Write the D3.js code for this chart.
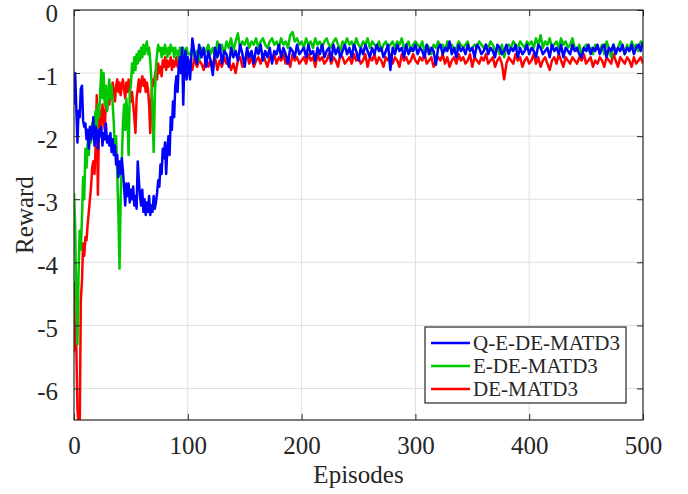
<!DOCTYPE html>
<html lang="en">
<head>
    <meta charset="utf-8">
    <title>Reward</title>
    <script src="https://cdn.jsdelivr.net/npm/d3@7/dist/d3.min.js"></script>
    <style type="text/css">
        body { margin: 0; background: #fff; }
        svg { display: block; }
        text { font-family: "Liberation Serif", "Times New Roman", serif; fill: #262626; }
    </style>
</head>
<body>
<script>
// episodes: one per step up to 100, every second one afterwards
const episodesEarly = d3.range(0, 101);
const episodesLate = d3.range(102, 501, 2);

const seriesNames = ["Q-E-DE-MATD3", "E-DE-MATD3", "DE-MATD3"];
const seriesColors = ["#0000ff", "#00c800", "#ff0000"];

const xTicks = [0, 100, 200, 300, 400, 500];
const yTicks = [0, -1, -2, -3, -4, -5, -6];

// Q-E-DE-MATD3
const blueEarly = [
    -1.5, -1.0, -1.55, -2.1, -1.6, -1.7, -1.25, -1.2, -1.75, -1.85,
    -1.8, -2.05, -1.9, -2.2, -1.85, -2.05, -1.95, -1.7, -2.15, -1.85,
    -1.95, -2.2, -1.9, -2.0, -1.85, -2.15, -1.95, -2.05, -1.8, -2.1,
    -2.0, -2.15, -1.95, -2.25, -2.05, -2.3, -2.15, -2.45, -2.3, -2.65,
    -2.4, -2.6, -2.35, -2.55, -2.8, -3.1, -2.75, -2.95, -2.75, -3.05,
    -2.85, -3.0, -2.8, -3.1, -2.95, -3.15, -2.4, -2.7, -2.95, -3.1,
    -2.85, -3.2, -3.0, -3.25, -3.05, -3.2, -2.95, -3.25, -3.1, -3.2,
    -2.95, -3.15, -3.05, -2.9, -2.7, -2.8, -2.45, -2.6, -2.2, -2.35,
    -2.1, -2.6, -2.2, -2.0, -2.3, -1.7, -1.9, -1.45, -1.7, -1.2,
    -1.05, -1.3, -0.9, -0.75, -1.0, -0.6, -1.5, -0.8, -0.65, -1.1,
    -0.75
];
const blueLate = [
    -1.1, -0.45, -0.7, -0.85, -0.55, -0.75, -0.6, -0.9, -0.65, -0.8,
    -1.03, -0.6, -0.75, -0.55, -0.85, -0.65, -0.7, -0.9, -0.6, -0.75,
    -0.65, -0.8, -0.55, -0.7, -0.9, -0.6, -0.75, -0.65, -0.85, -0.6,
    -0.7, -0.55, -0.8, -0.65, -0.75, -0.6, -0.85, -0.65, -0.7, -0.55,
    -0.75, -0.6, -0.7, -0.85, -0.6, -0.65, -0.75, -0.55, -0.7, -0.65,
    -0.6, -0.75, -0.55, -0.7, -0.65, -0.8, -0.6, -0.7, -0.55, -0.75,
    -0.65, -0.6, -0.8, -0.55, -0.7, -0.6, -0.75, -0.65, -0.55, -0.7,
    -0.6, -0.75, -0.55, -0.65, -0.8, -0.6, -0.7, -0.55, -0.65, -0.75,
    -0.6, -0.7, -0.55, -0.65, -0.6, -0.75, -0.65, -0.55, -0.95, -0.6,
    -0.7, -0.55, -0.65, -0.6, -0.75, -0.55, -0.7, -0.6, -0.65, -0.55,
    -0.7, -0.6, -0.65, -0.75, -0.55, -0.7, -0.6, -0.65, -0.87, -0.6,
    -0.55, -0.7, -0.6, -0.65, -0.5, -0.7, -0.6, -0.75, -0.55, -0.65,
    -0.6, -0.7, -0.55, -0.65, -0.6, -0.75, -0.55, -0.6, -0.7, -0.65,
    -0.55, -0.7, -0.6, -0.65, -0.75, -0.55, -0.6, -0.7, -0.65, -0.55,
    -0.7, -0.6, -0.65, -0.55, -0.75, -0.6, -0.7, -0.65, -0.55, -0.7,
    -0.6, -0.65, -0.75, -0.55, -0.6, -0.7, -0.65, -0.6, -0.75, -0.55,
    -0.65, -0.6, -0.7, -0.55, -0.75, -0.6, -0.65, -0.7, -0.55, -0.65,
    -0.6, -0.7, -0.75, -0.6, -0.65, -0.55, -0.7, -0.6, -0.65, -0.55,
    -0.7, -0.6, -0.55, -0.75, -0.6, -0.65, -0.55, -0.7, -0.6, -0.65,
    -0.55, -0.7, -0.6, -0.65, -0.55, -0.7, -0.6, -0.55, -0.65, -0.5
];

// E-DE-MATD3
const greenEarly = [
    -2.9, -3.4, -4.6, -5.3, -4.2, -3.5, -3.8, -3.3, -2.65, -3.0,
    -2.2, -2.5, -2.1, -2.3, -1.9, -2.1, -1.8, -2.0, -1.75, -1.6,
    -1.9, -1.5, -1.7, -1.3, -0.95, -1.4, -1.0, -1.5, -1.2, -1.6,
    -1.3, -1.1, -1.4, -1.2, -1.5, -1.8, -2.3, -2.0, -2.6, -3.2,
    -4.1, -3.0, -2.4, -1.8, -1.5, -1.9, -1.4, -1.7, -2.3, -1.3,
    -1.2, -0.85, -1.0, -0.75, -0.95, -0.7, -0.85, -0.65, -0.8, -0.6,
    -0.75, -0.55, -0.7, -0.6, -0.5, -0.7, -0.6, -0.8, -1.1, -1.6,
    -2.25, -1.4, -0.9, -0.7, -0.55, -0.65, -0.6, -0.75, -0.6, -0.7,
    -0.55, -0.65, -0.75, -0.6, -0.7, -0.55, -0.65, -0.6, -0.75, -0.6,
    -0.7, -0.65, -0.8, -0.6, -0.7, -0.65, -0.6, -0.75, -0.65, -0.6,
    -0.7
];
const greenLate = [
    -0.7, -0.6, -0.75, -0.65, -0.8, -0.6, -0.7, -0.65, -0.55, -0.7,
    -0.6, -0.75, -0.5, -0.65, -0.55, -0.7, -0.5, -0.6, -0.45, -0.65,
    -0.5, -0.37, -0.6, -0.5, -0.55, -0.45, -0.6, -0.5, -0.55, -0.45,
    -0.6, -0.5, -0.45, -0.55, -0.6, -0.5, -0.45, -0.55, -0.5, -0.6,
    -0.45, -0.55, -0.5, -0.6, -0.4, -0.35, -0.5, -0.45, -0.55, -0.5,
    -0.6, -0.45, -0.55, -0.5, -0.6, -0.45, -0.55, -0.5, -0.6, -0.5,
    -0.45, -0.55, -0.6, -0.5, -0.45, -0.55, -0.65, -0.5, -0.55, -0.45,
    -0.55, -0.5, -0.6, -0.45, -0.55, -0.6, -0.5, -0.55, -0.45, -0.6,
    -0.5, -0.55, -0.6, -0.5, -0.65, -0.55, -0.5, -0.6, -0.55, -0.5,
    -0.6, -0.5, -0.55, -0.45, -0.6, -0.55, -0.5, -0.65, -0.55, -0.5,
    -0.55, -0.6, -0.5, -0.65, -0.55, -0.6, -0.7, -0.55, -0.6, -0.5,
    -0.6, -0.55, -0.65, -0.5, -0.6, -0.55, -0.65, -0.6, -0.5, -0.55,
    -0.6, -0.55, -0.5, -0.65, -0.6, -0.55, -0.6, -0.5, -0.55, -0.6,
    -0.55, -0.6, -0.5, -0.55, -0.65, -0.6, -0.7, -0.55, -0.75, -0.6,
    -0.55, -0.6, -0.5, -0.55, -0.6, -0.5, -0.55, -0.6, -0.5, -0.55,
    -0.5, -0.6, -0.45, -0.55, -0.4, -0.6, -0.5, -0.55, -0.45, -0.6,
    -0.55, -0.5, -0.6, -0.45, -0.55, -0.5, -0.6, -0.55, -0.45, -0.6,
    -0.65, -0.55, -0.7, -0.6, -0.55, -0.65, -0.6, -0.7, -0.55, -0.6,
    -0.65, -0.55, -0.7, -0.5, -0.6, -0.75, -0.55, -0.65, -0.6, -0.5,
    -0.6, -0.7, -0.55, -0.65, -0.5, -0.6, -0.55, -0.65, -0.5, -0.55
];

// DE-MATD3
const redEarly = [
    -4.3, -5.4, -5.3, -6.3, -6.6, -6.7, -4.6, -4.3, -3.7, -3.9,
    -3.6, -3.65, -3.4, -3.2, -3.0, -2.8, -2.5, -2.4, -2.6, -2.2,
    -1.35, -2.93, -1.8, -1.6, -1.85, -1.5, -1.7, -1.9, -1.45, -1.6,
    -1.35, -1.5, -1.25, -1.4, -1.15, -1.3, -1.45, -1.2, -1.1, -1.3,
    -1.15, -1.35, -1.2, -1.1, -1.25, -1.4, -1.15, -1.3, -1.1, -1.25,
    -1.45, -1.3, -1.5, -1.7, -1.95, -1.4, -1.25, -1.1, -1.3, -1.15,
    -1.05, -1.2, -1.1, -1.3, -1.15, -1.25, -1.5, -1.95, -1.4, -1.1,
    -1.2, -1.05, -0.95, -1.1, -0.85, -1.0, -0.9, -1.05, -0.8, -0.9,
    -0.75, -0.95, -0.8, -0.9, -0.85, -0.75, -0.95, -0.8, -0.9, -0.85,
    -0.75, -0.9, -0.8, -0.95, -0.85, -0.7, -0.9, -0.8, -0.85, -0.75,
    -0.9
];
const redLate = [
    -0.8, -0.95, -0.75, -0.9, -0.8, -0.85, -0.95, -0.75, -0.9, -0.8,
    -0.85, -0.75, -0.95, -0.8, -0.9, -0.75, -0.85, -0.8, -0.95, -0.85,
    -1.0, -0.8, -0.75, -0.9, -0.8, -0.7, -0.85, -0.75, -0.9, -0.8,
    -0.75, -0.85, -0.7, -0.8, -0.9, -0.75, -0.8, -0.7, -0.85, -0.75,
    -0.8, -0.7, -0.85, -0.75, -0.9, -0.7, -0.8, -0.75, -0.85, -0.8,
    -0.75, -0.85, -0.7, -0.8, -0.75, -0.9, -0.7, -0.8, -0.75, -0.85,
    -0.8, -0.7, -0.85, -0.75, -0.8, -0.9, -0.7, -0.75, -0.85, -0.8,
    -0.75, -0.85, -0.7, -0.8, -0.75, -0.85, -0.8, -0.7, -0.9, -0.75,
    -0.8, -0.7, -0.85, -0.75, -0.8, -0.9, -0.75, -0.8, -0.7, -0.85,
    -0.75, -0.8, -0.9, -0.7, -0.8, -0.75, -0.85, -0.8, -0.7, -0.8,
    -0.85, -0.75, -0.8, -0.7, -0.85, -0.8, -0.75, -0.9, -0.8, -0.75,
    -0.8, -0.7, -0.85, -0.75, -0.9, -0.8, -0.75, -0.85, -0.7, -0.8,
    -0.75, -0.85, -0.8, -0.7, -0.9, -0.75, -0.8, -0.85, -0.75, -0.8,
    -0.7, -0.85, -0.8, -0.75, -0.9, -0.8, -0.75, -0.85, -1.1, -0.85,
    -0.75, -0.8, -0.85, -0.7, -0.8, -0.75, -0.9, -0.8, -0.75, -0.85,
    -0.8, -0.7, -0.85, -0.75, -0.9, -0.8, -0.75, -0.85, -0.95, -0.8,
    -0.75, -0.85, -0.7, -0.8, -0.9, -0.75, -0.8, -0.85, -0.75, -0.8,
    -0.85, -0.75, -0.8, -0.7, -0.85, -0.8, -0.75, -0.9, -0.8, -0.85,
    -0.75, -0.8, -0.9, -0.75, -0.8, -0.85, -0.7, -0.8, -0.9, -0.75,
    -0.8, -0.85, -0.75, -0.8, -0.9, -0.75, -0.85, -0.8, -0.75, -0.85
];

const episodes = episodesEarly.concat(episodesLate);
const seriesValues = [
    blueEarly.concat(blueLate),
    greenEarly.concat(greenLate),
    redEarly.concat(redLate)
];

const margin = {top: 10, right: 45, bottom: 74, left: 74},
    width = 688 - margin.left - margin.right,
    height = 494 - margin.top - margin.bottom;

const x = d3.scaleLinear().domain([0, 500]).range([0, width]);
const y = d3.scaleLinear().domain([-6.5, 0]).range([height, 0]);

const svg = d3.select("body").append("svg")
    .attr("width", 688)
    .attr("height", 494)
    .append("g")
    .attr("transform", "translate(" + margin.left + "," + margin.top + ")");

svg.append("defs").append("clipPath")
    .attr("id", "plot-clip")
    .append("rect")
    .attr("width", width)
    .attr("height", height);

// grid
svg.append("g")
    .selectAll("line")
    .data(xTicks.slice(1, -1))
    .enter().append("line")
    .attr("x1", d => x(d)).attr("x2", d => x(d))
    .attr("y1", 0).attr("y2", height)
    .attr("stroke", "#dfdfdf").attr("stroke-width", 1);
svg.append("g")
    .selectAll("line")
    .data(yTicks.slice(1))
    .enter().append("line")
    .attr("x1", 0).attr("x2", width)
    .attr("y1", d => y(d)).attr("y2", d => y(d))
    .attr("stroke", "#dfdfdf").attr("stroke-width", 1);

// curves, red first so blue ends on top
const line = d3.line()
    .x((d, i) => x(episodes[i]))
    .y(d => y(d));

const curves = svg.append("g").attr("clip-path", "url(#plot-clip)");
[2, 1, 0].forEach(k => {
    curves.append("path")
        .datum(seriesValues[k])
        .attr("fill", "none")
        .attr("stroke", seriesColors[k])
        .attr("stroke-width", 2.5)
        .attr("stroke-linejoin", "round")
        .attr("d", line);
});

// axes, matlab style: inward ticks on every side
const tickLen = 6;
function styleAxis(g) {
    g.attr("font-family", "Liberation Serif, Times New Roman, serif");
    g.select(".domain").remove();
    g.selectAll(".tick line").attr("stroke", "#262626");
    g.selectAll(".tick text")
        .style("font-size", "25px")
        .style("font-family", "'Liberation Serif', 'Times New Roman', serif")
        .attr("fill", "#262626");
}

svg.append("g")
    .attr("transform", "translate(0," + height + ")")
    .call(d3.axisBottom(x).tickValues(xTicks).tickSize(-tickLen).tickPadding(16))
    .call(styleAxis);
svg.append("g")
    .call(d3.axisTop(x).tickValues(xTicks).tickSize(-tickLen).tickFormat(""))
    .call(styleAxis);
svg.append("g")
    .call(d3.axisLeft(y).tickValues(yTicks).tickSize(-tickLen).tickPadding(16).tickFormat(d3.format("d")))
    .call(styleAxis)
    .selectAll(".tick text").attr("dy", "0.45em");
svg.append("g")
    .attr("transform", "translate(" + width + ",0)")
    .call(d3.axisRight(y).tickValues(yTicks).tickSize(-tickLen).tickFormat(""))
    .call(styleAxis);

// hyphen instead of unicode minus, like the original
svg.selectAll(".tick text").text(function() { return this.textContent.replace("\u2212", "-"); });

svg.append("rect")
    .attr("width", width)
    .attr("height", height)
    .attr("fill", "none")
    .attr("stroke", "#262626")
    .attr("stroke-width", 1.2);

svg.append("text")
    .attr("x", width / 2)
    .attr("y", height + 63)
    .attr("text-anchor", "middle")
    .style("font-size", "25px")
    .text("Episodes");

svg.append("text")
    .attr("transform", "translate(" + (33 - margin.left) + "," + (height / 2) + ") rotate(-90)")
    .attr("text-anchor", "middle")
    .style("font-size", "25px")
    .text("Reward");

// legend
const legend = svg.append("g")
    .attr("transform", "translate(" + (425 - margin.left) + "," + (327 - margin.top) + ")");
legend.append("rect")
    .attr("width", 201)
    .attr("height", 76)
    .attr("fill", "#fff")
    .attr("stroke", "#262626")
    .attr("stroke-width", 1.2);
seriesNames.forEach((name, i) => {
    const cy = 16 + i * 23;
    legend.append("line")
        .attr("x1", 6).attr("x2", 45)
        .attr("y1", cy).attr("y2", cy)
        .attr("stroke", seriesColors[i])
        .attr("stroke-width", 2.5);
    legend.append("text")
        .attr("x", 48)
        .attr("y", cy + 7)
        .style("font-size", "21px")
        .text(name);
});
</script>
</body>
</html>
